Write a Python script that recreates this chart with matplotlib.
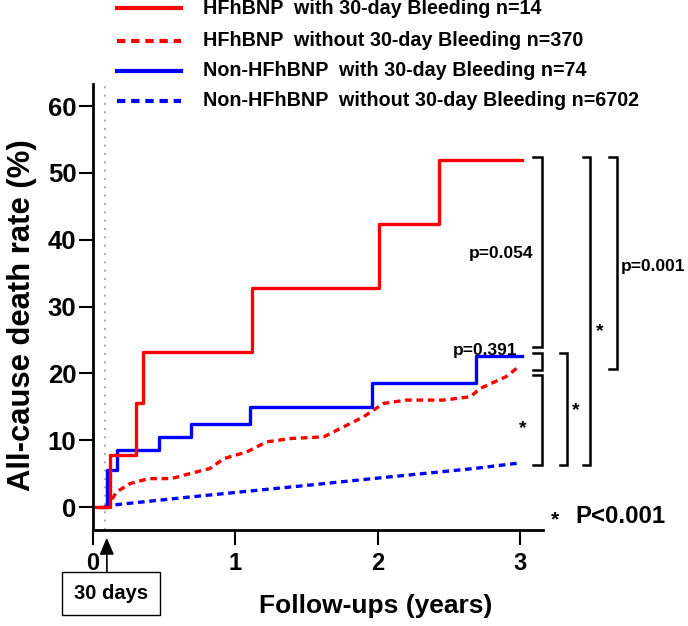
import matplotlib
matplotlib.use("Agg")
import matplotlib.pyplot as plt
from matplotlib.lines import Line2D

plt.rcParams['font.family'] = ['Liberation Sans', 'DejaVu Sans']
plt.rcParams['font.weight'] = 'bold'

# step curves (Kaplan-Meier style)
hf_bleed_x = [0, 0.12, 0.30, 0.35, 1.12, 2.01, 2.43, 3.01]
hf_bleed_y = [0, 7.8, 15.5, 23.2, 32.7, 42.4, 51.9, 51.9]

non_bleed_x = [0.05, 0.096, 0.166, 0.46, 0.69, 1.10, 1.96, 2.69, 3.01]
non_bleed_y = [0, 5.5, 8.6, 10.5, 12.4, 15.0, 18.5, 22.6, 22.6]

hf_nobleed_x = [0.08, 0.107, 0.165, 0.26, 0.39, 0.55, 0.68, 0.82, 0.92, 1.08, 1.22,
                1.39, 1.62, 1.76, 1.90, 2.04, 2.20, 2.46, 2.65, 2.72, 2.90, 2.99]
hf_nobleed_y = [0, 0.25, 2.25, 3.5, 4.25, 4.25, 5.0, 5.75, 7.25, 8.25, 9.75,
                10.25, 10.5, 12, 13.5, 15.5, 16, 16, 16.5, 17.75, 19.5, 21]

non_nobleed_x = [0.08, 0.12, 0.68, 1.39, 2.08, 2.67, 3.0]
non_nobleed_y = [0, 0.25, 1.5, 3.0, 4.5, 5.75, 6.6]

labels = ["HFhBNP  with 30-day Bleeding n=14",
          "HFhBNP  without 30-day Bleeding n=370",
          "Non-HFhBNP  with 30-day Bleeding n=74",
          "Non-HFhBNP  without 30-day Bleeding n=6702"]

xticks = [0, 1, 2, 3]
yticks = [0, 10, 20, 30, 40, 50, 60]

RED = "#ff0000"
BLUE = "#0000ff"
dash = (0, (2, 1.4))

fig = plt.figure(figsize=(6.88, 6.26), dpi=100)
ax = fig.add_axes([93/688, 96/626, 450/688, 446/626])

ax.axvline(0.082, color="#b0b0b0", lw=1.5, ls=(0, (1, 3)), zorder=1)

ax.plot(non_nobleed_x, non_nobleed_y, color=BLUE, lw=2.4, ls=dash)
ax.plot(hf_nobleed_x, hf_nobleed_y, color=RED, lw=2.4, ls=dash)
ax.step(non_bleed_x, non_bleed_y, where="post", color=BLUE, lw=2.4)
ax.step(hf_bleed_x, hf_bleed_y, where="post", color=RED, lw=2.4)

ax.set_xlim(0, 3.16)
ax.set_ylim(-3.44, 63.3)
ax.set_xticks(xticks)
ax.set_yticks(yticks)
ax.tick_params(axis="y", labelsize=18.5, width=1.5, length=10, pad=2)
ax.tick_params(axis="x", labelsize=17, width=1.5, length=11, pad=5)
for s in ["top", "right"]:
    ax.spines[s].set_visible(False)
for s in ["left", "bottom"]:
    ax.spines[s].set_linewidth(2)

ax.text(-0.157, 0.481, "All-cause death rate (%)", transform=ax.transAxes,
        rotation=90, ha="center", va="center", fontsize=22.3, fontweight="bold")
ax.text(0.629, -0.17, "Follow-ups (years)", transform=ax.transAxes,
        ha="center", va="center", fontsize=19, fontweight="bold")


# brackets with p values
def bracket(x, x0, y_top, y_bot):
    ax.plot([x0, x, x, x0], [y_top, y_top, y_bot, y_bot], color="black",
            lw=1.8, clip_on=False, solid_joinstyle="miter")


bracket(3.15, 3.09, 52.4, 24.0)
bracket(3.15, 3.09, 23.0, 20.5)
bracket(3.15, 3.09, 19.8, 6.3)
bracket(3.33, 3.28, 23.0, 6.3)
bracket(3.49, 3.44, 52.4, 6.3)
bracket(3.68, 3.62, 52.4, 20.6)

ax.text(3.09, 38, "p=0.054", ha="right", va="center", fontsize=12.5, clip_on=False)
ax.text(2.75, 23.4, "p=0.391", ha="center", va="center", fontsize=12.5, clip_on=False)
ax.text(3.705, 36, "p=0.001", ha="left", va="center", fontsize=12.5, clip_on=False)
ax.text(3.02, 11.8, "*", ha="center", va="center", fontsize=14, clip_on=False)
ax.text(3.39, 14.5, "*", ha="center", va="center", fontsize=14, clip_on=False)
ax.text(3.56, 26.2, "*", ha="center", va="center", fontsize=14, clip_on=False)
ax.text(3.245, -2.0, "*", ha="center", va="center", fontsize=15, clip_on=False)
ax.text(3.385, -1.45, "P<0.001", ha="left", va="center", fontsize=17.2, clip_on=False)

# 30 days marker
ax.annotate("30 days", xy=(0.096, -4.6), xytext=(0.125, -13.0),
            textcoords="data", ha="center", va="center", fontsize=14.5,
            annotation_clip=False,
            bbox=dict(boxstyle="square,pad=0.6", fc="white", ec="black", lw=1),
            arrowprops=dict(arrowstyle="-|>,head_length=0.7,head_width=0.3",
                            color="black", lw=1.2, relpos=(0.45, 1.0),
                            shrinkA=0, shrinkB=0))

# legend drawn at top
styles = [(RED, "-"), (RED, dash), (BLUE, "-"), (BLUE, dash)]
rows = [8, 41, 71, 101]
for (c, ls), lab, r in zip(styles, labels, rows):
    yy = 1 - r / 626
    fig.add_artist(Line2D([117/688, 181/688], [yy, yy], color=c, lw=3, ls=ls))
    fig.text(203/688, yy, lab, ha="left", va="center", fontsize=14.2, fontweight="bold")

fig.savefig("out.png", dpi=100)
